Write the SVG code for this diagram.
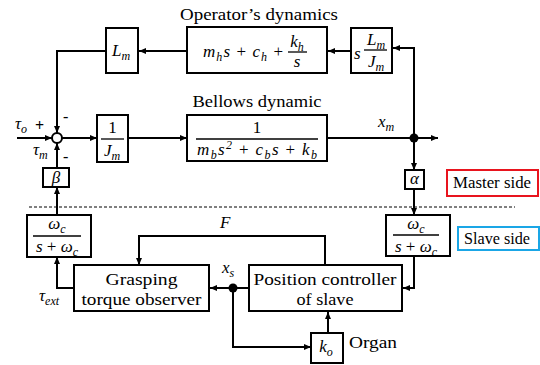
<svg xmlns="http://www.w3.org/2000/svg" width="540" height="365" viewBox="0 0 540 365">
<style>
.box{fill:#fff;stroke:#000;stroke-width:2}
.ln{fill:none;stroke:#000;stroke-width:2}
.fl{stroke:#000;stroke-width:1.3}
</style>
<defs>
<marker id="a" markerWidth="8" markerHeight="8" refX="7" refY="4" orient="auto" markerUnits="userSpaceOnUse">
<path d="M0,1 L7,4 L0,7 z" fill="#000"/>
</marker>
</defs>
<rect width="540" height="365" fill="#fff"/>

<g id="connectors">
<path class="ln" d="M414,138 V48 H393" marker-end="url(#a)"/>
<path class="ln" d="M351,51 H328" marker-end="url(#a)"/>
<path class="ln" d="M187,51 H139" marker-end="url(#a)"/>
<path class="ln" d="M106,51 H57 V133" marker-end="url(#a)"/>
<path class="ln" d="M17,138 H52" marker-end="url(#a)"/>
<path class="ln" d="M62,138 H97" marker-end="url(#a)"/>
<path class="ln" d="M128,138 H187" marker-end="url(#a)"/>
<path class="ln" d="M327,138 H438" marker-end="url(#a)"/>
<path class="ln" d="M414,138 V170" marker-end="url(#a)"/>
<path class="ln" d="M414,189 V215" marker-end="url(#a)"/>
<path class="ln" d="M414,256 V288 H403" marker-end="url(#a)"/>
<path class="ln" d="M249,288 H210" marker-end="url(#a)"/>
<path class="ln" d="M233,288 V347 H311" marker-end="url(#a)"/>
<path class="ln" d="M328,333 V312" marker-end="url(#a)"/>
<path class="ln" d="M325,265 V236 H139 V265" marker-end="url(#a)"/>
<path class="ln" d="M74,288 H57 V257" marker-end="url(#a)"/>
<path class="ln" d="M57,215 V187" marker-end="url(#a)"/>
<path class="ln" d="M57,168 V143" marker-end="url(#a)"/>
<circle cx="414" cy="138" r="4.5" fill="#000"/>
<circle cx="233" cy="288" r="4.5" fill="#000"/>
</g>

<line x1="29" y1="207" x2="515" y2="207" stroke="#000" stroke-width="1" stroke-dasharray="3,2"/>

<text style="font-family:'Liberation Serif',serif;font-size:16px" x="259" y="20" text-anchor="middle" textLength="158" lengthAdjust="spacingAndGlyphs">Operator’s dynamics</text>
<text style="font-family:'Liberation Serif',serif;font-size:16px" x="257" y="107" text-anchor="middle" textLength="129" lengthAdjust="spacingAndGlyphs">Bellows dynamic</text>

<g id="sum">
<circle cx="57" cy="138" r="5" fill="#fff" stroke="#000" stroke-width="2"/>
</g>

<g id="Lm">
<rect class="box" x="106" y="28" width="32" height="45"/>
<text style="font-family:'Liberation Serif',serif;font-style:italic;font-size:17px" x="121" y="56" text-anchor="middle">L<tspan font-size="12" dy="4">m</tspan></text>
</g>

<g id="operator">
<rect class="box" x="187" y="27" width="140" height="46"/>
<text style="font-family:'Liberation Serif',serif;font-style:italic;font-size:17px" x="203" y="57" textLength="80" lengthAdjust="spacing">m<tspan font-size="12" dy="4">h</tspan><tspan dy="-4">s </tspan><tspan style="font-style:normal">+</tspan> c<tspan font-size="12" dy="4">h</tspan><tspan dy="-4" style="font-style:normal"> +</tspan></text>
<text style="font-family:'Liberation Serif',serif;font-style:italic;font-size:17px" x="297" y="47" text-anchor="middle">k<tspan font-size="12" dy="4">h</tspan></text>
<line class="fl" x1="288" y1="52" x2="307" y2="52"/>
<text style="font-family:'Liberation Serif',serif;font-style:italic;font-size:17px" x="297" y="67" text-anchor="middle">s</text>
</g>

<g id="sLmJm">
<rect class="box" x="351" y="28" width="41" height="45"/>
<text style="font-family:'Liberation Serif',serif;font-style:italic;font-size:17px" x="354" y="59">s</text>
<text style="font-family:'Liberation Serif',serif;font-style:italic;font-size:17px" x="376" y="45" text-anchor="middle">L<tspan font-size="12" dy="4">m</tspan></text>
<line class="fl" x1="364" y1="50" x2="387" y2="50"/>
<text style="font-family:'Liberation Serif',serif;font-style:italic;font-size:17px" x="376" y="67" text-anchor="middle">J<tspan font-size="12" dy="4">m</tspan></text>
</g>

<g id="invJm">
<rect class="box" x="97" y="115" width="31" height="47"/>
<text style="font-family:'Liberation Serif',serif;font-size:17px" x="112.5" y="133" text-anchor="middle">1</text>
<line class="fl" x1="101" y1="139" x2="124" y2="139"/>
<text style="font-family:'Liberation Serif',serif;font-style:italic;font-size:17px" x="112" y="156" text-anchor="middle">J<tspan font-size="12" dy="4">m</tspan></text>
</g>

<g id="bellows">
<rect class="box" x="187" y="115" width="140" height="46"/>
<text style="font-family:'Liberation Serif',serif;font-size:17px" x="257" y="133" text-anchor="middle">1</text>
<line class="fl" x1="196" y1="139" x2="318" y2="139"/>
<text style="font-family:'Liberation Serif',serif;font-style:italic;font-size:17px" x="257" y="155" text-anchor="middle" textLength="120" lengthAdjust="spacing">m<tspan font-size="12" dy="4">b</tspan><tspan dy="-4">s</tspan><tspan font-size="12" dy="-6">2</tspan><tspan dy="6" style="font-style:normal"> + </tspan>c<tspan font-size="12" dy="4">b</tspan><tspan dy="-4">s </tspan><tspan style="font-style:normal">+</tspan> k<tspan font-size="12" dy="4">b</tspan></text>
</g>

<g id="alpha">
<rect class="box" x="405" y="170" width="19" height="19"/>
<text style="font-family:'Liberation Serif',serif;font-style:italic;font-size:17px" x="414.5" y="184" text-anchor="middle">α</text>
</g>

<g id="beta">
<rect class="box" x="43" y="168" width="26" height="19"/>
<text style="font-family:'Liberation Serif',serif;font-style:italic;font-size:17px" x="56" y="183" text-anchor="middle">β</text>
</g>

<g id="master">
<rect x="447" y="170" width="91" height="26" fill="#fff" stroke="#e8141e" stroke-width="2"/>
<text style="font-family:'Liberation Serif',serif;font-size:16px" x="492" y="188" text-anchor="middle" textLength="78" lengthAdjust="spacingAndGlyphs">Master side</text>
</g>

<g id="slave">
<rect x="458" y="227" width="81" height="23" fill="#fff" stroke="#1aa6e6" stroke-width="2"/>
<text style="font-family:'Liberation Serif',serif;font-size:16px" x="497" y="244" text-anchor="middle" textLength="66" lengthAdjust="spacingAndGlyphs">Slave side</text>
</g>

<g id="lpfL">
<rect class="box" x="27" y="215" width="64" height="42"/>
<text style="font-family:'Liberation Serif',serif;font-style:italic;font-size:17px" x="57" y="229" text-anchor="middle">ω<tspan font-size="12" dy="4">c</tspan></text>
<line class="fl" x1="33" y1="236" x2="81" y2="236"/>
<text style="font-family:'Liberation Serif',serif;font-style:italic;font-size:17px" x="57" y="252" text-anchor="middle">s <tspan style="font-style:normal">+</tspan> ω<tspan font-size="12" dy="4">c</tspan></text>
</g>

<g id="lpfR">
<rect class="box" x="386" y="215" width="64" height="41"/>
<text style="font-family:'Liberation Serif',serif;font-style:italic;font-size:17px" x="416" y="229" text-anchor="middle">ω<tspan font-size="12" dy="4">c</tspan></text>
<line class="fl" x1="393" y1="235" x2="439" y2="235"/>
<text style="font-family:'Liberation Serif',serif;font-style:italic;font-size:17px" x="416" y="252" text-anchor="middle">s <tspan style="font-style:normal">+</tspan> ω<tspan font-size="12" dy="4">c</tspan></text>
</g>

<g id="grasp">
<rect class="box" x="74" y="265" width="135" height="46"/>
<text style="font-family:'Liberation Serif',serif;font-size:16px" x="141.5" y="285" text-anchor="middle" textLength="72" lengthAdjust="spacingAndGlyphs">Grasping</text>
<text style="font-family:'Liberation Serif',serif;font-size:16px" x="141.5" y="305" text-anchor="middle" textLength="120" lengthAdjust="spacingAndGlyphs">torque observer</text>
</g>

<g id="posctrl">
<rect class="box" x="249" y="265" width="153" height="46"/>
<text style="font-family:'Liberation Serif',serif;font-size:16px" x="325" y="285" text-anchor="middle" textLength="143" lengthAdjust="spacingAndGlyphs">Position controller</text>
<text style="font-family:'Liberation Serif',serif;font-size:16px" x="325" y="305" text-anchor="middle" textLength="57" lengthAdjust="spacingAndGlyphs">of slave</text>
</g>

<g id="ko">
<rect class="box" x="311" y="333" width="32" height="30"/>
<text style="font-family:'Liberation Serif',serif;font-style:italic;font-size:17px" x="326" y="352" text-anchor="middle">k<tspan font-size="12" dy="4">o</tspan></text>
</g>
<text style="font-family:'Liberation Serif',serif;font-size:16px" x="349" y="348" textLength="48" lengthAdjust="spacingAndGlyphs">Organ</text>

<g id="labels">
<text style="font-family:'Liberation Serif',serif;font-style:italic;font-size:17px" x="15" y="129">τ<tspan font-size="12" dy="4">o</tspan></text>
<text style="font-family:'Liberation Serif',serif;font-size:16px;font-weight:bold" x="35" y="131">+</text>
<text style="font-family:'Liberation Serif',serif;font-size:16px" x="63" y="122">-</text>
<text style="font-family:'Liberation Serif',serif;font-style:italic;font-size:17px" x="33" y="155">τ<tspan font-size="12" dy="4">m</tspan></text>
<text style="font-family:'Liberation Serif',serif;font-size:16px" x="63" y="162">-</text>
<text style="font-family:'Liberation Serif',serif;font-style:italic;font-size:17px" x="378" y="127">x<tspan font-size="12" dy="4">m</tspan></text>
<text style="font-family:'Liberation Serif',serif;font-style:italic;font-size:17px" x="220" y="228">F</text>
<text style="font-family:'Liberation Serif',serif;font-style:italic;font-size:17px" x="222" y="273">x<tspan font-size="12" dy="4">s</tspan></text>
<text style="font-family:'Liberation Serif',serif;font-style:italic;font-size:17px" x="39" y="301">τ<tspan font-size="12" dy="4">ext</tspan></text>
</g>
</svg>
